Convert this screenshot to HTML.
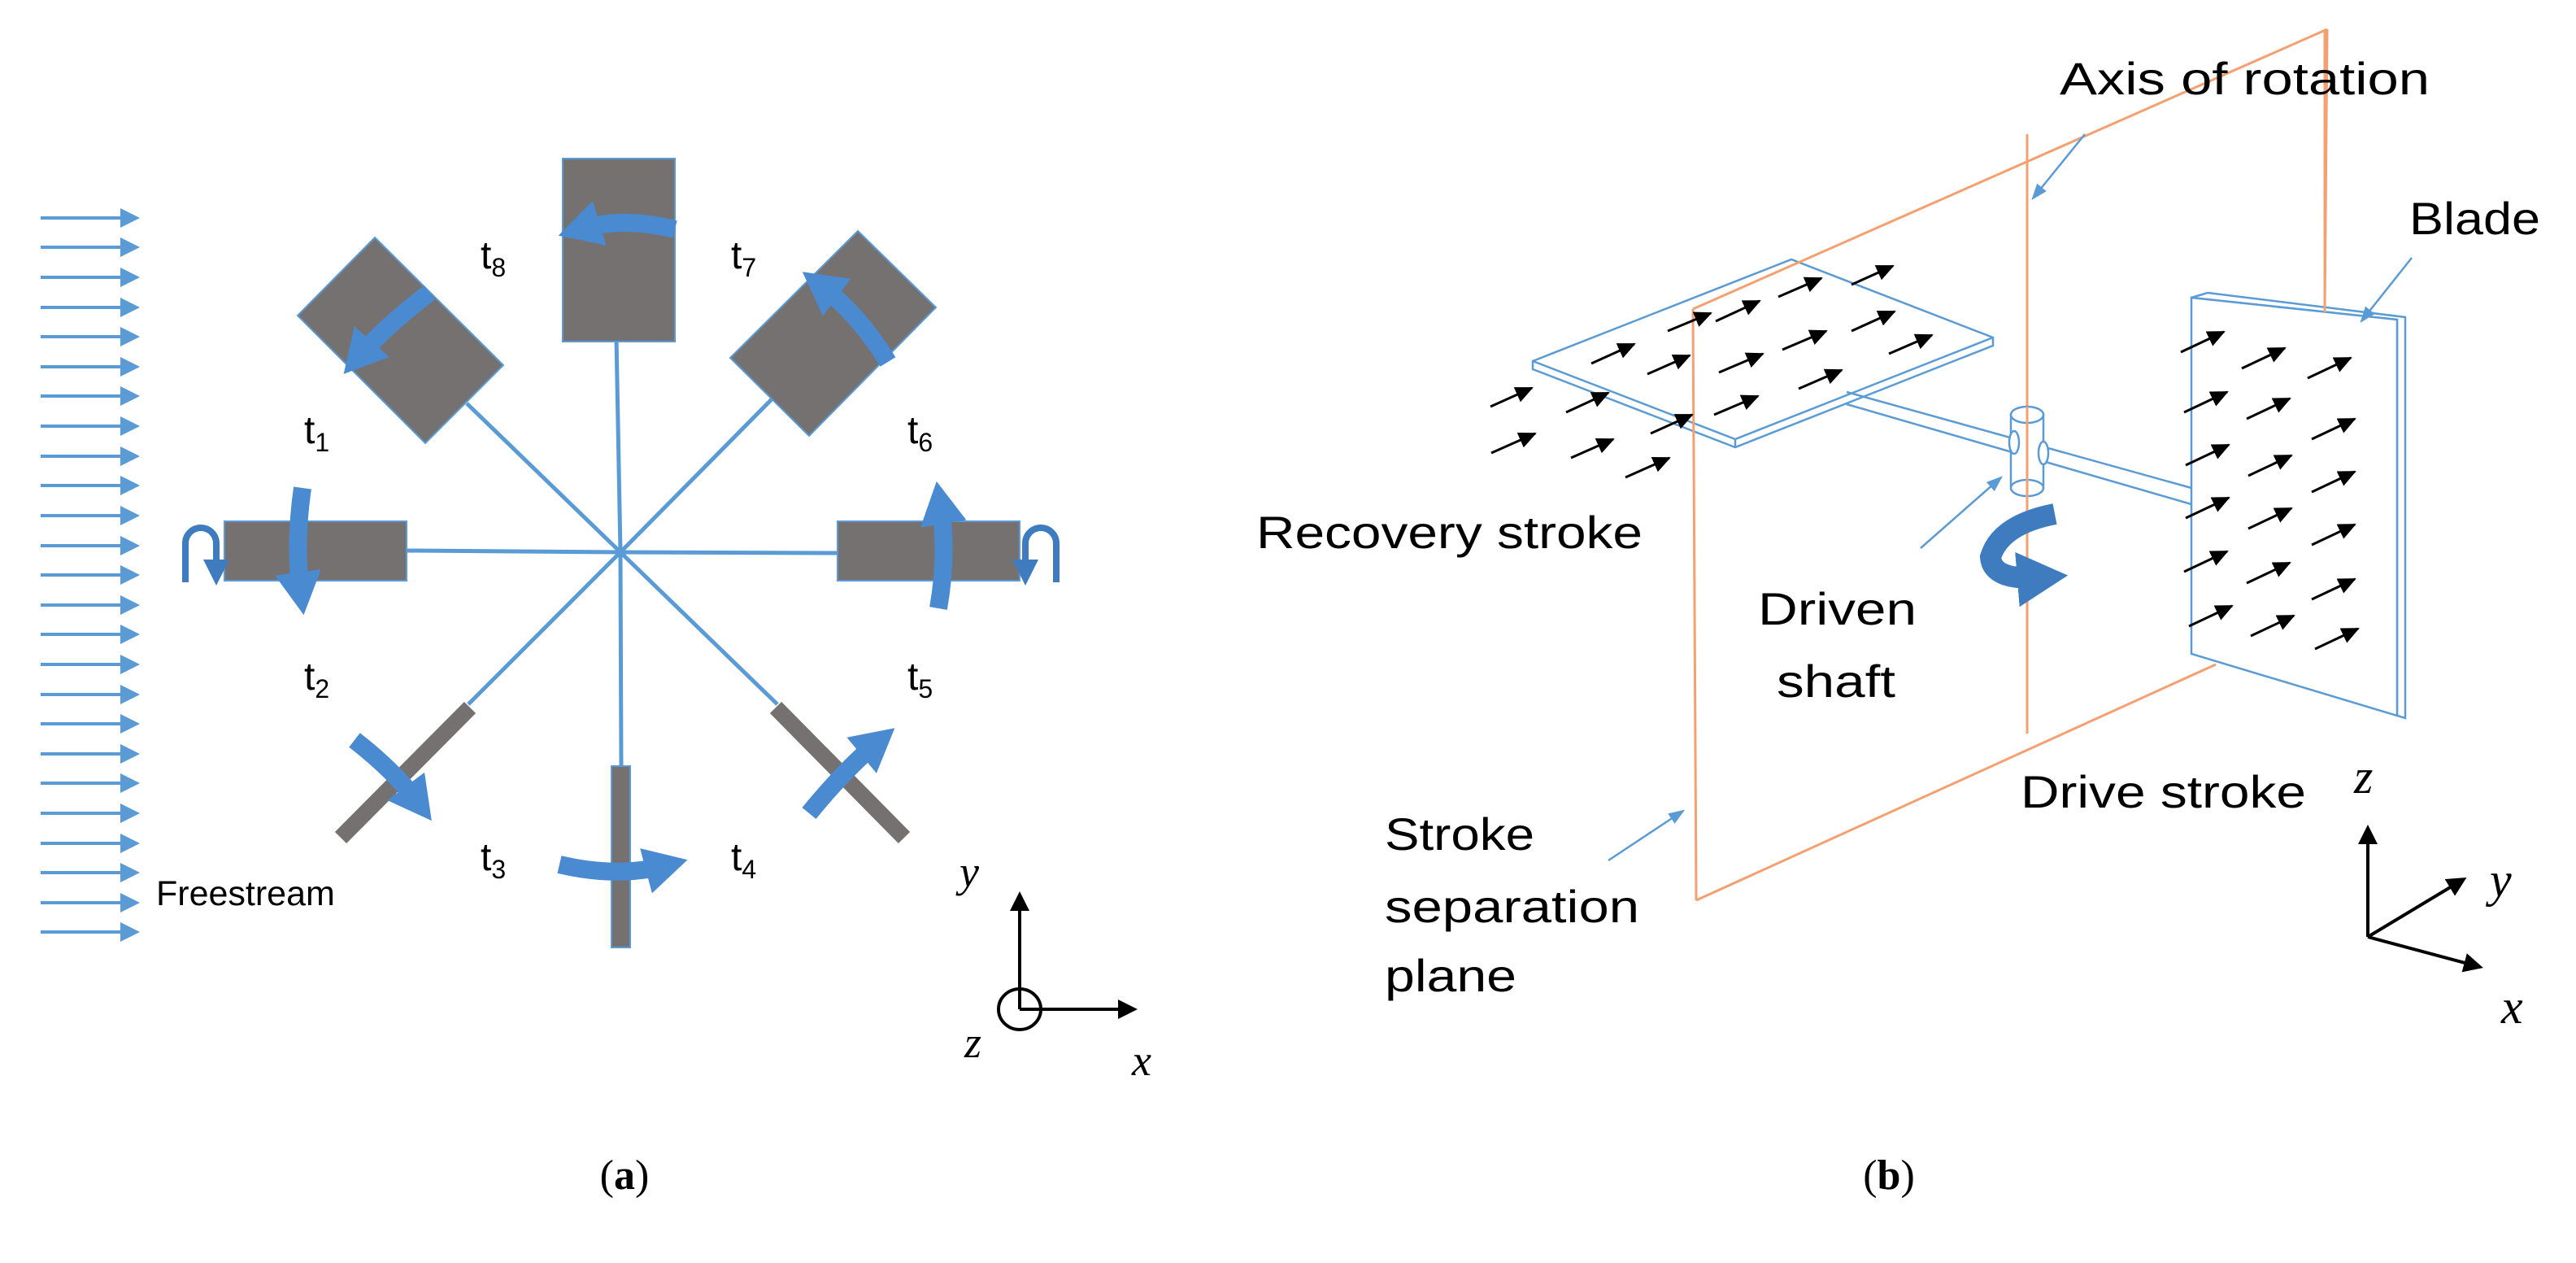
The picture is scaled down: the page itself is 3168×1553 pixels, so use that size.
<!DOCTYPE html>
<html><head><meta charset="utf-8"><style>
html,body{margin:0;padding:0;background:#fff}
svg{display:block}
.t{font-family:"Liberation Sans",sans-serif;fill:#000}
.m{font-family:"Liberation Serif",serif;font-style:italic;fill:#000}
</style></head><body>
<svg width="3168" height="1553" viewBox="0 0 3168 1553" xmlns="http://www.w3.org/2000/svg">
<defs>
<marker id="fa" markerWidth="6" markerHeight="6" refX="5" refY="3" orient="auto" markerUnits="strokeWidth"><path d="M0,0 L6,3 L0,6 z" fill="#5b9bd5"/></marker>
<marker id="bh" markerWidth="2.6" markerHeight="2.6" refX="1.2" refY="1.3" orient="auto" markerUnits="strokeWidth"><path d="M0,0 L2.4,1.3 L0,2.6 z" fill="#4a8ad0"/></marker>
<marker id="bh2" markerWidth="2.6" markerHeight="2.6" refX="1.2" refY="1.3" orient="auto" markerUnits="strokeWidth"><path d="M0,0 L2.4,1.3 L0,2.6 z" fill="#3e7cbf"/></marker>
<marker id="sh" markerWidth="4" markerHeight="4" refX="1.5" refY="2" orient="auto" markerUnits="strokeWidth"><path d="M0,0 L4,2 L0,4 z" fill="#3e7cbf"/></marker>
<marker id="ka" markerWidth="6" markerHeight="6" refX="5" refY="3" orient="auto" markerUnits="strokeWidth"><path d="M0,0 L6,3 L0,6 z" fill="#000"/></marker>
<marker id="kb" markerWidth="22" markerHeight="20" refX="20" refY="10" orient="auto" markerUnits="userSpaceOnUse"><path d="M0,0 L22,10 L0,20 z" fill="#000"/></marker>
<marker id="la" markerWidth="8" markerHeight="8" refX="7" refY="4" orient="auto" markerUnits="strokeWidth"><path d="M0,1 L8,4 L0,7 z" fill="#5b9bd5"/></marker>
</defs>

<!-- Freestream arrows -->
<g stroke="#5b9bd5" stroke-width="4" marker-end="url(#fa)">
<path d="M50,268H168"/><path d="M50,304H168"/><path d="M50,341H168"/><path d="M50,378H168"/><path d="M50,414H168"/>
<path d="M50,451H168"/><path d="M50,487H168"/><path d="M50,524H168"/><path d="M50,561H168"/><path d="M50,597H168"/>
<path d="M50,634H168"/><path d="M50,671H168"/><path d="M50,707H168"/><path d="M50,744H168"/><path d="M50,780H168"/>
<path d="M50,817H168"/><path d="M50,854H168"/><path d="M50,890H168"/><path d="M50,927H168"/><path d="M50,963H168"/>
<path d="M50,1000H168"/><path d="M50,1037H168"/><path d="M50,1073H168"/><path d="M50,1110H168"/><path d="M50,1146H168"/>
</g>
<text class="t" x="192" y="1113" font-size="43">Freestream</text>

<!-- spokes -->
<g stroke="#5b9bd5" stroke-width="5">
<line x1="763" y1="679" x2="758" y2="415"/>
<line x1="763" y1="679" x2="500" y2="677"/>
<line x1="763" y1="679" x2="1030" y2="680"/>
<line x1="763" y1="679" x2="764" y2="942"/>
<line x1="763" y1="679" x2="574" y2="496"/>
<line x1="763" y1="679" x2="949" y2="491"/>
<line x1="763" y1="679" x2="576" y2="866"/>
<line x1="763" y1="679" x2="956" y2="866"/>
</g>
<!-- blades -->
<g fill="#767171" stroke="#5b9bd5" stroke-width="2">
<rect x="692" y="195" width="138" height="225"/>
<rect x="276" y="641" width="224" height="73"/>
<rect x="1030" y="641" width="224" height="73"/>
<rect x="752" y="942" width="23" height="223"/>
<polygon points="461,292 619,449 523,545 366,388"/>
<polygon points="1055,284 1151,378 995,536 898,440"/>
</g>
<g stroke="#767171" stroke-width="20">
<line x1="578" y1="870" x2="419" y2="1030"/>
<line x1="954" y1="870" x2="1112" y2="1030"/>
</g>

<!-- blue rotation arrows -->
<g fill="none" stroke="#4a8ad0" stroke-width="22" marker-end="url(#bh)">
<path d="M830,282 Q765,266 712,282"/>
<path d="M1092,445 Q1055,385 1008,350"/>
<path d="M528,360 Q475,400 440,440"/>
<path d="M372,600 Q362,670 370,730"/>
<path d="M1154,748 Q1166,680 1156,618"/>
<path d="M436,910 Q485,948 515,988"/>
<path d="M688,1063 Q760,1080 820,1064"/>
<path d="M995,1000 Q1040,945 1080,912"/>
</g>
<g fill="none" stroke="#3e7cbf" stroke-width="8" marker-end="url(#sh)">
<path d="M228,716 L228,668 A19,19 0 0 1 266,668 L266,700"/>
<path d="M1299,716 L1299,668 A19,19 0 0 0 1261,668 L1261,700"/>
</g>

<!-- t labels -->
<g class="t" font-size="48">
<text x="591" y="330">t<tspan font-size="32" dy="10">8</tspan></text>
<text x="899" y="330">t<tspan font-size="32" dy="10">7</tspan></text>
<text x="374" y="545">t<tspan font-size="32" dy="10">1</tspan></text>
<text x="1116" y="545">t<tspan font-size="32" dy="10">6</tspan></text>
<text x="374" y="848">t<tspan font-size="32" dy="10">2</tspan></text>
<text x="1116" y="848">t<tspan font-size="32" dy="10">5</tspan></text>
<text x="591" y="1070">t<tspan font-size="32" dy="10">3</tspan></text>
<text x="899" y="1070">t<tspan font-size="32" dy="10">4</tspan></text>
</g>

<!-- left axes -->
<g stroke="#000" stroke-width="4" fill="none">
<line x1="1254" y1="1241" x2="1254" y2="1100" marker-end="url(#ka)"/>
<line x1="1254" y1="1241" x2="1395" y2="1241" marker-end="url(#ka)"/>
<ellipse cx="1254" cy="1241" rx="26" ry="25"/>
</g>
<text class="m" x="1180" y="1090" font-size="54">y</text>
<text class="m" x="1186" y="1300" font-size="54">z</text>
<text class="m" x="1392" y="1322" font-size="54">x</text>

<!-- captions -->
<text x="768" y="1462" font-family="Liberation Serif,serif" font-size="52" text-anchor="middle">(<tspan font-weight="bold">a</tspan>)</text>
<text x="2323" y="1462" font-family="Liberation Serif,serif" font-size="52" text-anchor="middle">(<tspan font-weight="bold">b</tspan>)</text>

<!-- RIGHT PANEL -->
<g fill="#fff" stroke="#5b9bd5" stroke-width="2.5">
<polygon points="1885,444 2203,319 2451,415 2451,425 2134,550 1885,454"/>
<polyline fill="none" points="1885,444 2134,540 2451,415"/>
<line x1="2134" y1="540" x2="2134" y2="550"/>
</g>
<g stroke="#5b9bd5" stroke-width="2.5">
<line x1="2271" y1="482" x2="2695" y2="600"/>
<line x1="2271" y1="497" x2="2695" y2="620"/>
</g>
<g stroke="#f4a070" stroke-width="3" fill="none">
<line x1="2082" y1="380" x2="2862" y2="36"/>
<line x1="2862" y1="36" x2="2859" y2="384"/>
<line x1="2082" y1="380" x2="2086" y2="1107"/>
<line x1="2086" y1="1107" x2="2725" y2="817"/>
<line x1="2493" y1="165" x2="2493" y2="902"/>
</g>
<g fill="#fff" stroke="#5b9bd5" stroke-width="2.5">
<rect x="2473" y="510" width="40" height="90"/>
<ellipse cx="2493" cy="510" rx="20" ry="10"/>
<ellipse cx="2493" cy="600" rx="20" ry="10"/>
<ellipse cx="2477" cy="544" rx="6" ry="14"/>
<ellipse cx="2513" cy="557" rx="6" ry="14"/>
</g>
<line x1="2493" y1="500" x2="2493" y2="612" stroke="#f4a070" stroke-width="3"/>
<g fill="#fff" stroke="#5b9bd5" stroke-width="2.5">
<polygon points="2695,366 2715,360 2958,390 2958,883 2948,880 2948,393"/>
<polygon points="2695,366 2948,393 2948,880 2695,804"/>
</g>
<line x1="2859" y1="36" x2="2859" y2="384" stroke="#f4a070" stroke-width="3"/>
<path d="M2527,632 Q2460,645 2448,685 Q2450,715 2512,710" fill="none" stroke="#3e7cbf" stroke-width="26" marker-end="url(#bh2)"/>

<!-- black small arrows -->
<g stroke="#000" stroke-width="3" marker-end="url(#kb)">
<path d="M1833,500 L1884,477"/><path d="M1926,507 L1978,483"/><path d="M1834,557 L1888,533"/><path d="M1932,563 L1984,540"/>
<path d="M1999,587 L2053,563"/><path d="M2030,533 L2081,510"/><path d="M1957,447 L2010,423"/><path d="M2026,460 L2078,437"/>
<path d="M2051,407 L2104,385"/><path d="M2110,395 L2164,370"/><path d="M2187,365 L2240,342"/><path d="M2277,350 L2328,327"/>
<path d="M2114,458 L2168,435"/><path d="M2108,510 L2162,487"/><path d="M2192,430 L2246,407"/><path d="M2212,478 L2265,455"/>
<path d="M2277,407 L2330,383"/><path d="M2323,435 L2376,412"/>
<path d="M2682,433 l53,-25"/><path d="M2757,453 l53,-25"/><path d="M2838,465 l53,-25"/>
<path d="M2686,507 l53,-25"/><path d="M2763,515 l53,-25"/><path d="M2843,540 l53,-25"/>
<path d="M2688,572 l53,-25"/><path d="M2765,585 l53,-25"/><path d="M2843,605 l53,-25"/>
<path d="M2688,637 l53,-25"/><path d="M2765,650 l53,-25"/><path d="M2843,670 l53,-25"/>
<path d="M2686,703 l53,-25"/><path d="M2763,717 l53,-25"/><path d="M2843,737 l53,-25"/>
<path d="M2692,770 l53,-25"/><path d="M2768,782 l53,-25"/><path d="M2847,798 l53,-25"/>
</g>

<g stroke="#5b9bd5" stroke-width="2.5" marker-end="url(#la)">
<line x1="2564" y1="165" x2="2500" y2="244"/>
<line x1="2966" y1="317" x2="2904" y2="395"/>
<line x1="2362" y1="674" x2="2461" y2="587"/>
<line x1="1978" y1="1058" x2="2070" y2="997"/>
</g>

<g class="t" font-size="56">
<text x="2533" y="116" textLength="455" lengthAdjust="spacingAndGlyphs">Axis of rotation</text>
<text x="2963" y="288" textLength="161" lengthAdjust="spacingAndGlyphs">Blade</text>
<text x="1545" y="674" textLength="475" lengthAdjust="spacingAndGlyphs">Recovery stroke</text>
<text x="2162" y="768" textLength="195" lengthAdjust="spacingAndGlyphs">Driven</text>
<text x="2185" y="857" textLength="146" lengthAdjust="spacingAndGlyphs">shaft</text>
<text x="2485" y="993" textLength="351" lengthAdjust="spacingAndGlyphs">Drive stroke</text>
<text x="1703" y="1045" textLength="184" lengthAdjust="spacingAndGlyphs">Stroke</text>
<text x="1703" y="1134" textLength="313" lengthAdjust="spacingAndGlyphs">separation</text>
<text x="1703" y="1219" textLength="162" lengthAdjust="spacingAndGlyphs">plane</text>
</g>

<g stroke="#000" stroke-width="4" fill="none" marker-end="url(#ka)">
<line x1="2912" y1="1152" x2="2912" y2="1018"/>
<line x1="2912" y1="1152" x2="3030" y2="1081"/>
<line x1="2912" y1="1152" x2="3050" y2="1189"/>
</g>
<text class="m" x="2895" y="975" font-size="60">z</text>
<text class="m" x="3062" y="1102" font-size="60">y</text>
<text class="m" x="3076" y="1258" font-size="60">x</text>
</svg>
</body></html>
